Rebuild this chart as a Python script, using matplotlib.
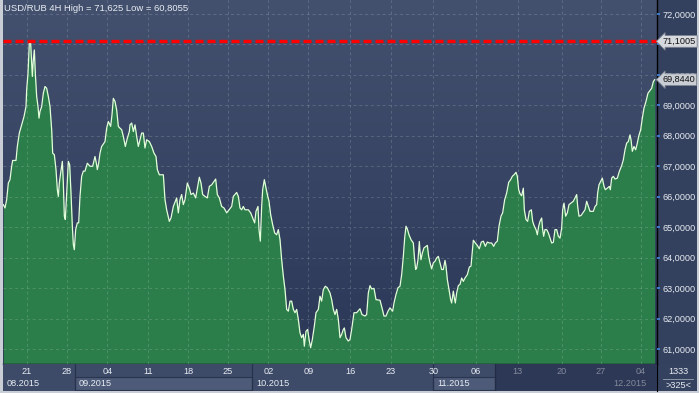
import numpy as np
import matplotlib
matplotlib.use('Agg')
import matplotlib.pyplot as plt
from matplotlib.colors import LinearSegmentedColormap
from matplotlib.ticker import FuncFormatter
from matplotlib.patches import Rectangle
from matplotlib.lines import Line2D

plt.rcParams['font.family'] = ['Liberation Sans', 'DejaVu Sans']

# x in trading hours (120 per week), y = USD/RUB 4H close
hours = [
    10, 15, 20, 25, 30, 35, 38, 48, 52, 58, 65, 72, 78, 80, 84, 88, 92, 95, 97, 100,
    103, 106, 110, 114, 117, 120, 125, 130, 135, 140, 145, 150, 155, 158, 163, 168, 172, 175, 178, 182,
    187, 190, 193, 196, 200, 205, 209, 213, 217, 220, 223, 227, 232, 236, 240, 245, 250, 255, 262, 270,
    278, 285, 289, 292, 296, 300, 305, 315, 320, 325, 332, 336, 340, 345, 350, 355, 360, 365, 370, 376,
    382, 388,
    390, 395, 400, 405, 410, 415, 420, 425, 430, 435, 440, 448, 455, 462, 468, 472, 478, 490, 495, 500,
    508, 513, 520, 530, 535, 540, 545, 550, 555, 562, 568, 573, 580, 587, 593, 598, 603, 608, 615, 622,
    628, 635, 642, 647, 652, 658, 665, 672, 680, 687, 695, 700, 710, 715, 720, 725, 730, 735, 745, 752,
    760, 764, 768, 774, 777, 781,
    785, 788, 793, 797, 802, 807, 812, 818, 824, 830, 835, 840, 845, 850, 855, 860, 865, 870, 875, 880,
    885, 890, 895, 900, 905, 910, 913, 918, 923, 928, 932, 937, 943, 948, 955, 960, 965, 970, 976, 982,
    990, 995, 1000, 1005, 1010, 1015, 1020, 1025, 1030, 1033, 1038, 1045, 1050, 1055, 1062, 1070, 1080, 1086, 1095, 1100,
    1105, 1110, 1115, 1122, 1128, 1140, 1146, 1152, 1158, 1164, 1170,
    1178, 1182, 1188, 1194, 1200, 1205, 1210, 1214, 1218, 1222, 1227, 1233, 1240, 1243, 1247, 1250, 1254, 1258, 1260, 1263,
    1267, 1272, 1278, 1282, 1286, 1290, 1295, 1300, 1305, 1310, 1315, 1320, 1325, 1330, 1335, 1338, 1342, 1347, 1352, 1355,
    1360, 1363, 1366, 1370, 1375, 1380, 1385, 1390, 1395, 1402, 1408, 1413, 1420, 1426, 1432, 1438, 1444, 1450, 1456, 1462,
    1468, 1475, 1481, 1486, 1492, 1497, 1503, 1508, 1514, 1520, 1526, 1532, 1537, 1542, 1548, 1552, 1556, 1560,
    1565, 1570, 1573, 1578, 1583, 1588, 1594, 1598, 1603, 1608, 1612, 1616, 1620, 1625, 1628, 1631, 1635, 1640, 1645, 1650,
    1655, 1660, 1665, 1670, 1675, 1680, 1685, 1688, 1692, 1697, 1702, 1707, 1713, 1720, 1725, 1730, 1733, 1737, 1743, 1750,
    1755, 1760, 1765, 1770, 1780, 1785, 1790, 1793, 1797, 1802, 1807, 1812, 1816, 1822, 1828, 1831, 1835, 1840, 1845, 1852,
    1858, 1865, 1870, 1875, 1880, 1885, 1890, 1893, 1897, 1902, 1907, 1912, 1916, 1922, 1927, 1932, 1938, 1944, 1950, 1955,
    1960, 1964,
]
usdrub = [
    65.74, 65.63, 65.9, 66.45, 66.56, 67.0, 67.19, 67.19, 67.65, 68.09, 68.36, 68.63, 68.96, 69.51, 70.05, 71.04, 71.04, 70.38, 69.95, 70.49,
    70.82, 70.05, 69.29, 68.96, 68.58, 68.8, 68.96, 69.4, 69.62, 69.56, 69.29, 68.96, 68.2, 67.43, 67.38, 66.89, 66.23, 66.01, 66.45, 66.78,
    67.16, 66.45, 65.36, 65.25, 66.12, 67.16, 67.05, 66.12, 65.03, 64.43, 64.26, 64.92, 65.14, 65.14, 66.01, 66.67, 66.84, 66.84, 67.1, 67.0,
    67.0, 67.32, 67.1, 66.89, 67.1, 67.43, 67.65, 67.81, 68.25, 68.47, 68.31, 68.69, 69.23, 69.13, 68.85, 68.31, 68.25, 68.2, 67.98, 67.65,
    67.92, 68.14,
    68.36, 68.42, 68.14, 68.36, 67.98, 67.65, 67.87, 68.09, 68.09, 67.6, 67.87, 67.81, 67.65, 67.43, 67.32, 66.89, 66.72, 66.72, 65.9, 65.57,
    65.19, 65.3, 65.68, 65.96, 65.47, 65.9, 66.07, 65.74, 65.9, 66.45, 66.28, 66.07, 66.12, 65.96, 66.34, 66.64, 66.45, 66.07, 66.01, 65.96,
    66.34, 66.39, 66.5, 66.58, 66.07, 65.96, 65.68, 65.63, 65.47, 65.57, 65.68, 66.01, 66.14, 66.01, 65.63, 65.57, 65.68, 65.57, 65.57, 65.47,
    65.25, 65.14, 65.52, 65.68, 64.92, 64.54,
    65.68, 66.23, 66.56, 66.34, 66.07, 65.85, 65.41, 65.08, 64.81, 64.75, 64.92, 64.59, 63.93, 63.39, 62.95, 62.3, 62.24, 62.57, 62.57, 62.3,
    62.19, 62.3, 61.97, 61.53, 61.37, 61.48, 61.09, 61.58, 61.64, 61.26, 61.04, 61.31, 61.75, 62.19, 62.3, 62.73, 62.57, 62.95, 63.06, 63.01,
    62.84, 62.62, 62.3, 62.13, 62.3, 61.97, 61.37, 61.48, 61.64, 61.69, 61.37, 61.26, 61.31, 61.64, 62.19, 62.19, 62.32, 62.13, 62.08, 62.13,
    62.84, 63.08, 62.97, 62.99, 62.62, 62.6, 62.35, 62.08, 62.08, 62.24, 62.35,
    62.24, 62.51, 62.79, 63.01, 63.06, 63.44, 64.04, 64.64, 65.03, 64.94, 64.75, 64.59, 64.48, 64.04, 63.61, 63.66, 63.93, 64.53, 64.21, 63.93,
    64.15, 64.32, 64.37, 64.4, 64.04, 63.83, 63.63, 63.83, 63.88, 63.99, 64.04, 63.83, 63.61, 63.61, 63.91, 63.72, 63.28, 62.95, 62.62, 62.51,
    62.9, 62.68, 62.51, 62.84, 63.08, 63.12, 63.33, 63.22, 63.33, 63.44, 63.69, 63.72, 64.57, 64.48, 64.4, 64.29, 64.51, 64.54, 64.37, 64.51,
    64.48, 64.48, 64.37, 64.48, 64.54, 65.03, 65.36, 65.47, 65.9, 66.12, 66.47, 66.56, 66.67, 66.72, 66.8, 66.67, 66.23, 66.1,
    66.03, 66.28, 65.57, 65.25, 65.19, 65.52, 65.57, 65.19, 65.03, 64.92, 64.75, 65.03, 65.19, 65.3, 64.92, 64.7, 64.92, 64.92, 64.81, 64.64,
    64.48, 64.5, 64.92, 64.92, 64.7, 64.64, 64.97, 65.57, 65.79, 65.36, 65.47, 65.74, 65.79, 65.85, 65.96, 66.07, 65.68, 65.36, 65.38, 65.49,
    65.57, 65.85, 65.68, 65.52, 65.52, 65.68, 65.74, 66.12, 66.39, 66.5, 66.61, 66.34, 66.23, 66.28, 66.34, 66.23, 66.61, 66.67, 66.58, 66.61,
    66.83, 67.02, 67.21, 67.54, 67.76, 67.81, 68.03, 67.87, 67.49, 67.65, 67.54, 67.76, 67.98, 68.2, 68.58, 68.91, 69.13, 69.4, 69.49, 69.56,
    69.78, 69.844,
]

price_ticks = [61, 62, 63, 64, 65, 66, 67, 68, 69, 70, 71, 72]
hidden_ticks = [71]  # covered by the high tag in the reference
tick_hours = [80, 200, 322, 443, 564, 684, 805, 925, 1050, 1172, 1300, 1427, 1553, 1685, 1802, 1922]
tick_labels = ['21', '28', '04', '11', '18', '25', '02', '09', '16', '23', '30', '06', '13', '20', '27', '04']
month_starts = [9, 225, 756, 1299, 1827]
month_labels = ['08.2015', '09.2015', '10.2015', '11.2015', '12.2015']
high_line = 71.1005
last_price = 69.844
title = 'USD/RUB 4H High = 71,625 Low = 60,8055'

W, H = 699, 393
x0, x1 = 9, 1971
y0, y1 = 60.506, 72.46
dark_from = 1485
txt = '#e8ecf2'
fs = 6.6


def rub(v):
    return f'{v:.4f}'.replace('.', ',')


fig = plt.figure(figsize=(W / 100, H / 100), dpi=100, facecolor='#c9ced6')

# right price panel + corner box
fig.add_artist(Rectangle((657 / W, 29 / H), 40 / W, 364 / H, transform=fig.transFigure,
                         fc='#33405e', ec='none', zorder=0))
fig.add_artist(Rectangle((657 / W, 2 / H), 40 / W, 27 / H, transform=fig.transFigure,
                         fc='#34425f', ec='none', zorder=0))

ax = fig.add_axes([3 / W, 29 / H, 654 / W, 364 / H])
ax.set_xlim(x0, x1)
ax.set_ylim(y0, y1)

bg = LinearSegmentedColormap.from_list('bg', ['#2b3757', '#43516f'])
ax.imshow(np.linspace(0, 1, 256).reshape(-1, 1), extent=[x0, x1, y0, y1], aspect='auto',
          cmap=bg, origin='lower', zorder=0)

ax.fill_between(hours, usdrub, y0, color='#2b7d4a', lw=0, zorder=1)
ax.plot(hours, usdrub, color='#e2ffd9', lw=0.9, zorder=3)
ax.axhline(high_line, color='#ff0000', lw=2.4, linestyle=(0, (2.4, 1.2)), zorder=4)

ax.set_yticks(price_ticks)
ax.set_xticks(tick_hours)
ax.set_axisbelow(False)
ax.grid(True, color='white', alpha=0.16, lw=0.7, linestyle=(0, (3, 3)))
ax.yaxis.tick_right()
ax.yaxis.set_major_formatter(FuncFormatter(lambda v, p: '' if round(v) in hidden_ticks else rub(v)))
ax.tick_params(axis='y', colors='#3f82d6', labelcolor=txt, labelsize=fs, length=2.5, width=1.3, pad=1.5)
ax.tick_params(axis='x', length=0, labelbottom=False)
for s in ['left', 'top']:
    ax.spines[s].set_visible(False)
for s in ['right', 'bottom']:
    ax.spines[s].set_color('black')
    ax.spines[s].set_linewidth(1.0)

ax.text(0.0015, 0.978, title, transform=ax.transAxes, color=txt, fontsize=6.8, va='center', ha='left', zorder=6)

ytr = ax.get_yaxis_transform()
ax.text(1.0085, high_line, rub(high_line), transform=ytr, fontsize=fs, color='#111111',
        va='center', ha='left', clip_on=False, zorder=10,
        bbox=dict(boxstyle='larrow,pad=0.15', fc='#d6d9de', ec='#7d8490', lw=0.6))
ax.text(1.0085, last_price, rub(last_price), transform=ytr, fontsize=fs, color='#111111',
        va='center', ha='left', clip_on=False, zorder=10,
        bbox=dict(boxstyle='larrow,pad=0.15', fc='#c9cdd4', ec='#7d8490', lw=0.6))

# bottom time panel
axb = fig.add_axes([3 / W, 2 / H, 654 / W, 27 / H], facecolor='#3d4b69')
axb.set_xlim(x0, x1)
axb.set_ylim(0, 1)
axb.set_xticks([])
axb.set_yticks([])
for s in ['left', 'top', 'bottom']:
    axb.spines[s].set_visible(False)
axb.spines['right'].set_color('black')

axb.add_patch(Rectangle((month_starts[1], 0.02), month_starts[2] - month_starts[1], 0.5,
                        fc='#4d5b78', ec='#2a3550', lw=0.8, zorder=1))
axb.add_patch(Rectangle((month_starts[3], 0.02), dark_from - month_starts[3], 0.5,
                        fc='#4d5b78', ec='#2a3550', lw=0.8, zorder=1))
for m in month_starts[1:4]:
    axb.axvline(m, color='#27324c', lw=0.9, zorder=2)

for h, lab in zip(tick_hours, tick_labels):
    axb.text(h, 0.72, lab, color=txt, fontsize=fs, ha='center', va='center', zorder=3)
for m, lab in zip(month_starts, month_labels):
    axb.text(m + 12, 0.27, lab, color=txt, fontsize=fs, ha='left', va='center', zorder=3)

# darker scrolled-out section
axb.add_patch(Rectangle((dark_from, 0), x1 - dark_from, 1, fc='#1d2744', alpha=0.5, ec='none', zorder=5))
axb.axvline(dark_from, color='#222c45', lw=0.9, zorder=6)

# corner box
fig.text(678 / W, (H - 371) / H, '1333', color=txt, fontsize=fs, ha='center', va='center')
fig.add_artist(Line2D([663 / W, 693 / W], [(H - 379) / H] * 2, transform=fig.transFigure, color='#9aa3b5', lw=0.6))
fig.text(678 / W, (H - 386) / H, '>325<', color=txt, fontsize=fs, ha='center', va='center')

fig.savefig('out.png', dpi=100, facecolor=fig.get_facecolor())
